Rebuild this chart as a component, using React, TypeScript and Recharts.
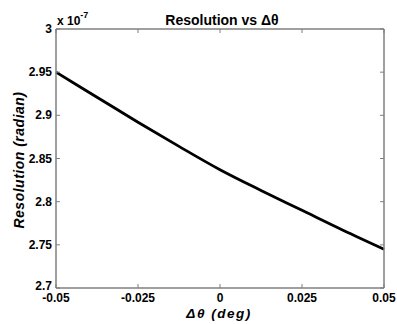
import { LineChart, Line, XAxis, YAxis, Label } from "recharts";

// Δθ in degrees, resolution in units of 1e-7 radian
const deltaTheta = [-0.05, -0.0375, -0.025, -0.0125, 0, 0.0125, 0.025, 0.0375, 0.05];
const resolution = [2.95, 2.921, 2.892, 2.864, 2.837, 2.813, 2.79, 2.767, 2.745];
const xTicks = [-0.05, -0.025, 0, 0.025, 0.05];
const yTicks = [2.7, 2.75, 2.8, 2.85, 2.9, 2.95, 3];

const data = deltaTheta.map((x, i) => ({ x, r: resolution[i] }));

const FONT = "'Liberation Sans', Arial, Helvetica, sans-serif";
const axisGray = "#7f7f7f";
const boldText = { fontFamily: FONT, fontWeight: 700, fill: "#000" };

const noTick = () => <g />;

// bold tick labels, MATLAB-ish
function XTick({ x, y, payload }: any) {
  return (
    <text x={x} y={y} dy={8} textAnchor="middle" fontSize={12} style={boldText}>
      {payload.value}
    </text>
  );
}

function YTick({ x, y, payload }: any) {
  // lowest label sits a touch higher so it clears the x tick label
  const shift = payload.value === 2.7 ? -2 : 0;
  return (
    <text x={x} y={y + shift} dy={4} textAnchor="end" fontSize={12} style={boldText}>
      {payload.value}
    </text>
  );
}

export default function App() {
  return (
    <div style={{ position: "absolute", left: 0, top: 0, width: 397, height: 324, background: "#fff" }}>
      <LineChart width={397} height={324} data={data} margin={{ top: 28, right: 12, left: 0, bottom: 0 }}>
        <XAxis
          dataKey="x"
          type="number"
          domain={[-0.05, 0.05]}
          ticks={xTicks}
          interval={0}
          height={36}
          tick={<XTick />}
          tickSize={-4}
          tickMargin={10}
          tickLine={{ stroke: axisGray }}
          axisLine={{ stroke: axisGray, strokeWidth: 1.5 }}
        >
          <Label
            content={() => (
              <text x={219} y={317.5} textAnchor="middle" fontSize={13.5} fontStyle="italic" letterSpacing={1.5} style={boldText}>
                Δθ (deg)
              </text>
            )}
          />
        </XAxis>
        <XAxis
          xAxisId="top"
          dataKey="x"
          orientation="top"
          type="number"
          domain={[-0.05, 0.05]}
          ticks={xTicks}
          interval={0}
          height={1}
          tick={noTick}
          tickSize={-4}
          tickLine={{ stroke: axisGray }}
          axisLine={{ stroke: axisGray, strokeWidth: 1.5 }}
        >
          <Label
            content={() => (
              <text x={222} y={25} textAnchor="middle" fontSize={14} style={boldText}>
                Resolution vs Δθ
              </text>
            )}
          />
        </XAxis>
        <YAxis
          type="number"
          domain={[2.7, 3]}
          ticks={yTicks}
          interval={0}
          width={56}
          tick={<YTick />}
          tickSize={-4}
          tickMargin={8}
          tickLine={{ stroke: axisGray }}
          axisLine={{ stroke: axisGray, strokeWidth: 1.5 }}
        >
          <Label
            content={() => (
              <g>
                <text
                  x={18.5}
                  y={160}
                  transform="rotate(-90 18.5 160)"
                  textAnchor="middle"
                  dominantBaseline="central"
                  fontSize={14}
                  fontStyle="italic"
                  letterSpacing={0.5}
                  style={boldText}
                >
                  Resolution (radian)
                </text>
                <text x={57} y={25} fontSize={12} style={boldText}>
                  x 10
                  <tspan dy={-7} fontSize={9}>-7</tspan>
                </text>
              </g>
            )}
          />
        </YAxis>
        <YAxis
          yAxisId="right"
          orientation="right"
          type="number"
          domain={[2.7, 3]}
          ticks={yTicks}
          interval={0}
          width={1}
          tick={noTick}
          tickSize={-4}
          tickLine={{ stroke: axisGray }}
          axisLine={{ stroke: axisGray, strokeWidth: 1.5 }}
        />
        {/* invisible copy bound to the top/right axes so the box closes */}
        <Line
          xAxisId="top"
          yAxisId="right"
          dataKey="r"
          stroke="none"
          dot={false}
          activeDot={false}
          isAnimationActive={false}
        />
        <Line
          type="monotone"
          dataKey="r"
          stroke="#000"
          strokeWidth={2.8}
          dot={false}
          isAnimationActive={false}
        />
      </LineChart>
    </div>
  );
}
